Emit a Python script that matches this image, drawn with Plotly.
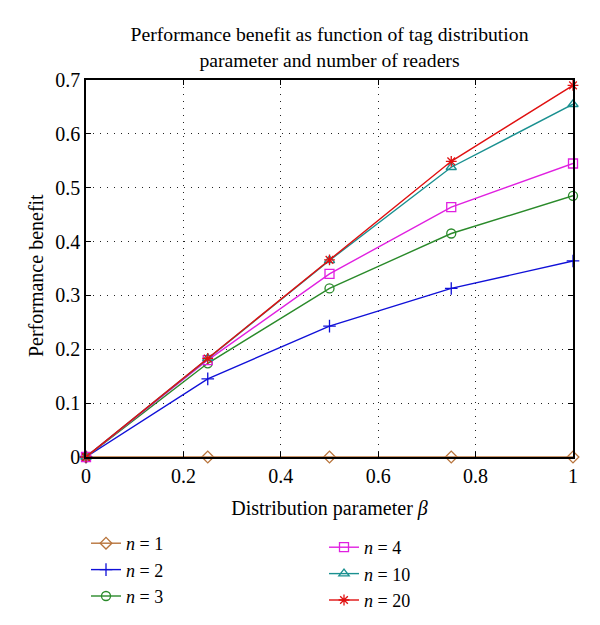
import plotly.graph_objects as go

beta = [0, 0.25, 0.5, 0.75, 1.0]
n1 = [0, 0, 0, 0, 0]
n2 = [0, 0.145, 0.243, 0.313, 0.364]
n3 = [0, 0.174, 0.313, 0.415, 0.485]
n4 = [0, 0.180, 0.340, 0.464, 0.545]
n10 = [0, 0.183, 0.365, 0.538, 0.655]
n20 = [0, 0.183, 0.366, 0.549, 0.690]

labels = ["<i>n</i> = 1", "<i>n</i> = 2", "<i>n</i> = 3",
          "<i>n</i> = 4", "<i>n</i> = 10", "<i>n</i> = 20"]
series = [n1, n2, n3, n4, n10, n20]
colors = ["#b8743c", "#1010d8", "#2a8a2a", "#e020e0", "#1a9090", "#e01010"]
symbols = ["diamond-open", "cross-thin-open", "circle-open", "square-open",
           "triangle-up-open", "asterisk-open"]
legends = ["legend", "legend", "legend", "legend2", "legend2", "legend2"]

FONT = "Liberation Serif"
W, H = 592, 617  # page body has an 8px default margin
L, R, T, B = 78, 27, 72, 168
PW = W - L - R

fig = go.Figure()
for ys, lab, c, s, lg in zip(series, labels, colors, symbols, legends):
    fig.add_trace(go.Scatter(
        x=beta, y=ys, name=lab, mode="lines+markers",
        line=dict(color=c, width=1.4),
        marker=dict(symbol=s, size=9, color=c, line=dict(color=c, width=1.3)),
        legend=lg, cliponaxis=False,
    ))

axis_common = dict(
    showline=True, linecolor="black", linewidth=1.5, mirror="allticks",
    ticks="inside", ticklen=5, tickcolor="black",
    showgrid=True, gridcolor="#222", gridwidth=1, griddash="1px,6px",
    zeroline=False, automargin=False,
    tickfont=dict(family=FONT, size=20, color="black"),
)

fig.update_layout(
    width=W, height=H,
    margin=dict(l=L, r=R, t=T, b=B, autoexpand=False),
    paper_bgcolor="white", plot_bgcolor="white",
    font=dict(family=FONT, color="black"),
    title=dict(
        text="Performance benefit as function of tag distribution<br>parameter and number of readers",
        x=(L + W - R) / 2 / W, xanchor="center",
        yref="container", y=1 - 33 / H, yanchor="top",
        font=dict(family=FONT, size=19.7, color="black"),
    ),
    xaxis=dict(range=[0, 1], tickvals=[0, 0.2, 0.4, 0.6, 0.8, 1],
               ticktext=["0", "0.2", "0.4", "0.6", "0.8", "1"],
               title=dict(text="Distribution parameter <i>β</i>",
                          font=dict(family=FONT, size=20)),
               **axis_common),
    yaxis=dict(range=[0, 0.7], tickvals=[0, 0.1, 0.2, 0.3, 0.4, 0.5, 0.6, 0.7],
               ticktext=["0", "0.1", "0.2", "0.3", "0.4", "0.5", "0.6", "0.7"],
               **axis_common),
    legend=dict(xref="container", yref="container",
                x=78 / W, y=1 - 517 / H, xanchor="left", yanchor="top",
                font=dict(family=FONT, size=18), bgcolor="rgba(0,0,0,0)",
                itemwidth=30, tracegroupgap=0),
    legend2=dict(xref="container", yref="container",
                 x=316 / W, y=1 - 521 / H, xanchor="left", yanchor="top",
                 font=dict(family=FONT, size=18), bgcolor="rgba(0,0,0,0)",
                 itemwidth=30, tracegroupgap=0),
    annotations=[dict(
        text="Performance benefit", textangle=-90,
        xref="paper", yref="paper", x=(28 - L) / PW, y=0.48,
        xanchor="center", yanchor="middle", showarrow=False,
        font=dict(family=FONT, size=20, color="black"),
    )],
)

fig.write_html("out.html")
